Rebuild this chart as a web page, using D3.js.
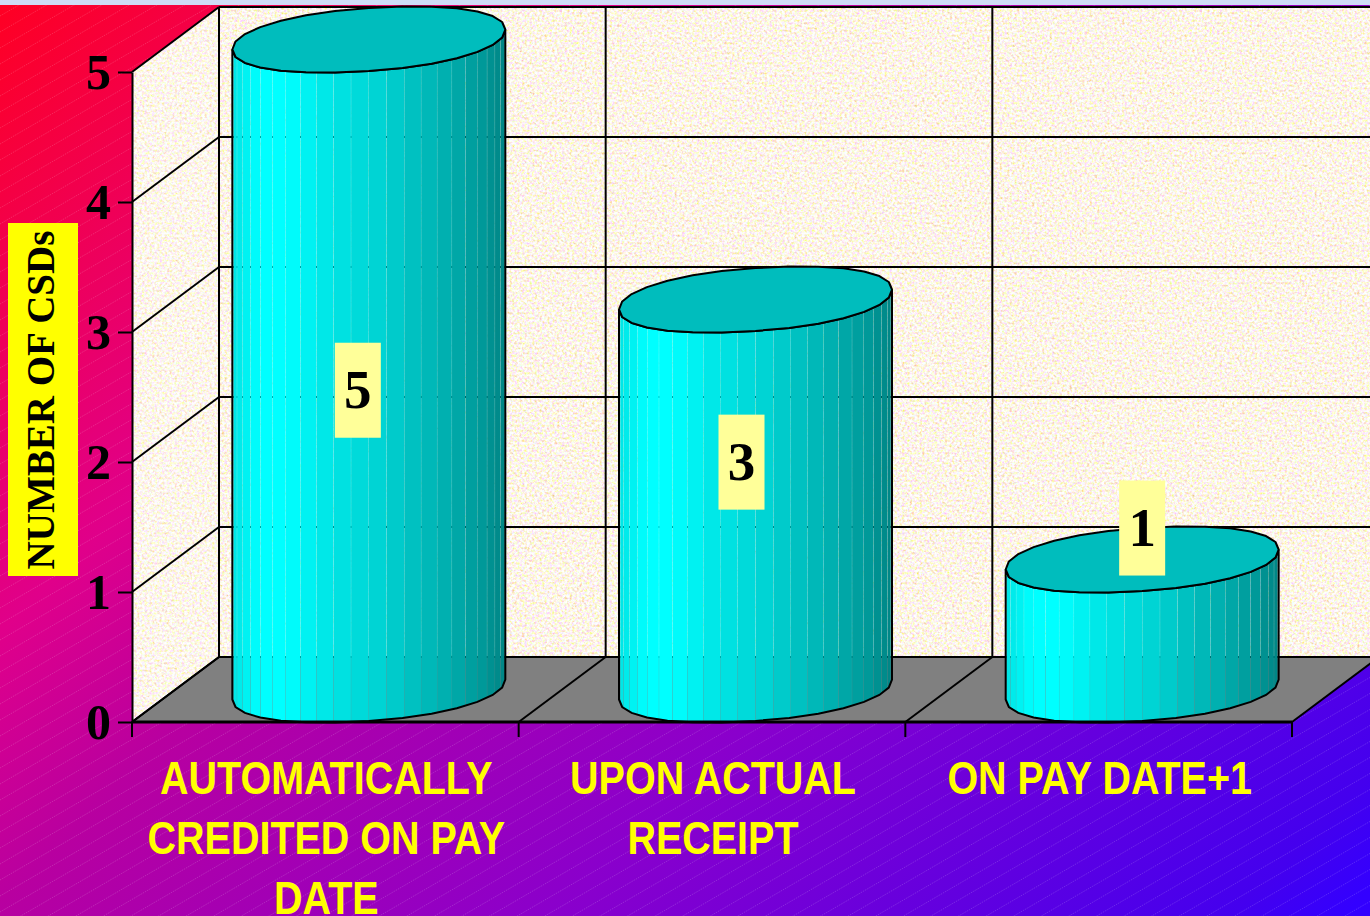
<!DOCTYPE html>
<html lang="en">
<head>
<meta charset="UTF-8">
<title>Number of CSDs</title>
<script src="https://d3js.org/d3.v7.min.js"></script>
<style>
html, body { margin: 0; padding: 0; background: #000; overflow: hidden; }
svg { display: block; }
</style>
</head>
<body>
<svg id="chart" width="1370" height="916"></svg>
<script>
const categories = ['AUTOMATICALLY CREDITED ON PAY DATE', 'UPON ACTUAL RECEIPT', 'ON PAY DATE+1'];
const categoryLines = [['AUTOMATICALLY', 'CREDITED ON PAY', 'DATE'], ['UPON ACTUAL', 'RECEIPT'], ['ON PAY DATE+1']];
const values = [5, 3, 1];
const yTicks = [0, 1, 2, 3, 4, 5];
const yTitle = 'NUMBER OF CSDs';

const W = 1370, H = 916;
const depthX = 87, depthY = 65;
const svg = d3.select('#chart');
const defs = svg.append('defs');

const x = d3.scaleBand().domain(categories).range([132, 1292]);
const y = d3.scaleLinear().domain([0, 5]).range([722, 72]);
const edges = categories.map(c => x(c)).concat(1292);
const line = d3.line();
const closed = pts => line(pts) + 'Z';

// background
const grad = defs.append('linearGradient').attr('id', 'bg').attr('gradientUnits', 'userSpaceOnUse')
    .attr('x1', 0).attr('y1', 0).attr('x2', 1130).attr('y2', 1130);
[[0, '#ff0022'], [0.28, '#e0008a'], [0.4, '#b800a0'], [0.65, '#8a00cc'], [0.95, '#4400ee'], [1, '#3300ff']].forEach(s =>
    grad.append('stop').attr('offset', s[0]).attr('stop-color', s[1]));
svg.append('rect').attr('width', W).attr('height', H).attr('fill', 'url(#bg)');
// thin dotted diagonals over the gradient
svg.append('g').selectAll('line').data(d3.range(0, H + W * 0.58, 16)).join('line')
    .attr('x1', 0).attr('y1', d => d).attr('x2', W).attr('y2', d => d - W * 0.58)
    .attr('stroke', '#fff').attr('stroke-opacity', 0.2).attr('stroke-width', 0.8).attr('stroke-dasharray', '1.5 1');
svg.append('rect').attr('width', W).attr('height', 5).attr('fill', '#cfdcf6');

// mottled paper for the walls
const paper = defs.append('filter').attr('id', 'paper').attr('x', 0).attr('y', 0).attr('width', 1).attr('height', 1);
paper.append('feTurbulence').attr('type', 'fractalNoise').attr('baseFrequency', 0.4).attr('numOctaves', 3).attr('seed', 4).attr('result', 'n');
paper.append('feColorMatrix').attr('in', 'n').attr('type', 'matrix')
    .attr('values', '0.4 0 0 0 0.78  0 1.0 0 0 0.42  0 0 1.6 0 0.02  0 0 0 0 1');

const wall = svg.append('g');
wall.append('rect').attr('x', 219).attr('y', 7).attr('width', W - 219).attr('height', 650)
    .attr('filter', 'url(#paper)');
const side = [[132, y(5)], [219, y(5) - depthY], [219, y(0) - depthY], [132, y(0)]];
defs.append('clipPath').attr('id', 'sideClip').append('path').attr('d', closed(side));
wall.append('g').attr('clip-path', 'url(#sideClip)').append('rect')
    .attr('x', 132).attr('y', 7).attr('width', 87).attr('height', 715)
    .attr('filter', 'url(#paper)');
wall.append('path').attr('d', closed(side)).attr('fill', '#fff').attr('fill-opacity', 0.15);

// floor
svg.append('path')
    .attr('d', closed([[132, y(0)], [1292, y(0)], [1292 + depthX, y(0) - depthY], [219, y(0) - depthY]]))
    .attr('fill', '#808080');

// grid on the walls and floor
const grid = svg.append('g').attr('stroke', '#000').attr('fill', 'none').attr('stroke-width', 2);
grid.selectAll('.back').data(yTicks).join('line')
    .attr('x1', 219).attr('x2', W).attr('y1', d => y(d) - depthY).attr('y2', d => y(d) - depthY);
grid.selectAll('.sideline').data(yTicks).join('path')
    .attr('d', d => line([[132, y(d)], [219, y(d) - depthY]]));
grid.selectAll('.drop').data(edges).join('path')
    .attr('d', d => line([[d + depthX, y(5) - depthY], [d + depthX, y(0) - depthY]]))
    .attr('display', (d, i) => i === 3 ? 'none' : null);
grid.selectAll('.floorline').data(edges).join('path')
    .attr('d', d => line([[d, y(0)], [d + depthX, y(0) - depthY]]));

// cylinders
const barWidth = x.bandwidth() * 0.706;
const rx = barWidth / 2, ry = 31.4, shear = 10, rimSegs = 14, strips = 24, squash = 0.93;
const shade = d3.scaleLinear()
    .domain([0, 0.1, 0.2, 0.35, 0.55, 0.75, 0.92, 1])
    .range(['#00e4e4', '#00ffff', '#00ffff', '#00e6e6', '#00d2d2', '#00b4b4', '#009898', '#008484']);
const pow = v => Math.sign(v) * Math.pow(Math.abs(v), squash);
const rim = (cx, cy, t) => [cx + rx * pow(Math.cos(t)), cy + ry * pow(Math.sin(t)) - shear * Math.cos(t)];
const rimFront = d3.range(rimSegs + 1).map(i => Math.PI - i * Math.PI / rimSegs);
const rimRing = d3.range(rimSegs * 2).map(i => i * Math.PI / rimSegs);
// strip edges bunch up towards the sides of the cylinder
const stripEdges = d3.range(strips + 1).map(i => (1 - Math.cos(i * Math.PI / strips)) / 2);

const bars = svg.append('g').selectAll('g').data(categories).join('g');
bars.each(function (c, i) {
    const g = d3.select(this);
    const cx = x(c) + x.bandwidth() / 2 + depthX / 2;
    const base = y(0) - depthY / 2;
    const top = y(values[i]) - depthY / 2;
    const outline = rimFront.map(t => rim(cx, top, t)).concat(rimFront.slice().reverse().map(t => rim(cx, base, t)));
    defs.append('clipPath').attr('id', 'body' + i).append('path').attr('d', closed(outline));
    const body = g.append('g').attr('clip-path', `url(#body${i})`);
    d3.pairs(stripEdges).forEach(([a, b]) => {
        const gap = 0.1;
        body.append('rect')
            .attr('x', cx - rx + a * barWidth + gap).attr('width', (b - a) * barWidth - 2 * gap)
            .attr('y', top - 40).attr('height', base - top + 80)
            .attr('fill', shade((a + b) / 2));
    });
    g.append('path').attr('d', closed(outline)).attr('fill', 'none').attr('stroke', '#000').attr('stroke-width', 2);
    g.append('path').attr('d', closed(rimRing.map(t => rim(cx, top, t))))
        .attr('fill', '#00bdbd').attr('stroke', '#000').attr('stroke-width', 2).attr('stroke-linejoin', 'round');
});

// axes
const serif = '"Liberation Serif", "Times New Roman", serif';
const yAxis = svg.append('g').attr('transform', 'translate(132,0)')
    .call(d3.axisLeft(y).tickValues(yTicks).tickFormat(d3.format('d')).tickSize(14).tickSizeOuter(0));
yAxis.selectAll('path, line').attr('stroke', '#000').attr('stroke-width', 2);
yAxis.selectAll('text').attr('x', -21).attr('dy', '0.33em').attr('fill', '#000')
    .attr('font-family', serif).attr('font-weight', 700).attr('font-size', 50).attr('text-anchor', 'end');

svg.append('path').attr('d', line([[132, y(0)], [1292, y(0)]])).attr('stroke', '#000').attr('stroke-width', 3);
svg.append('g').selectAll('line').data(edges).join('line')
    .attr('x1', d => d).attr('x2', d => d).attr('y1', y(0)).attr('y2', y(0) + 15)
    .attr('stroke', '#000').attr('stroke-width', 2);

// category labels, squeezed sideways like the narrow original
const catGroups = svg.append('g').selectAll('g').data(categories).join('g');
catGroups.selectAll('text').data((c, i) => categoryLines[i].map(t => ({ t, c }))).join('text')
    .attr('transform', (d, i) => `translate(${x(d.c) + x.bandwidth() / 2 + 1},${794 + i * 60}) scale(0.84,1)`)
    .attr('text-anchor', 'middle').attr('fill', '#ffff00')
    .attr('font-family', '"Liberation Sans", Arial, sans-serif')
    .attr('font-weight', 700).attr('font-size', 47)
    .text(d => d.t);

// y title
svg.append('rect').attr('x', 8).attr('y', 223).attr('width', 70).attr('height', 353).attr('fill', '#ffff00');
svg.append('text').attr('transform', 'translate(54,400) rotate(-90)').attr('text-anchor', 'middle')
    .attr('font-family', serif).attr('font-weight', 700).attr('font-size', 39).attr('fill', '#000')
    .text(yTitle);

// value labels
const labelDx = [-11, -14, 0];
const labelDy = [0, 3, 0];
const labels = svg.append('g').selectAll('g').data(categories).join('g')
    .attr('transform', (c, i) => `translate(${x(c) + x.bandwidth() / 2 + depthX / 2 + labelDx[i]},${y(1.227 + 0.265 * values[i]) + labelDy[i]})`);
labels.append('rect').attr('x', -23).attr('y', -47.5).attr('width', 46).attr('height', 95).attr('fill', '#ffff99');
labels.append('text').attr('text-anchor', 'middle').attr('dy', '0.33em')
    .attr('font-family', serif).attr('font-weight', 700).attr('font-size', 55).attr('fill', '#000')
    .text((c, i) => values[i]);
</script>
</body>
</html>
